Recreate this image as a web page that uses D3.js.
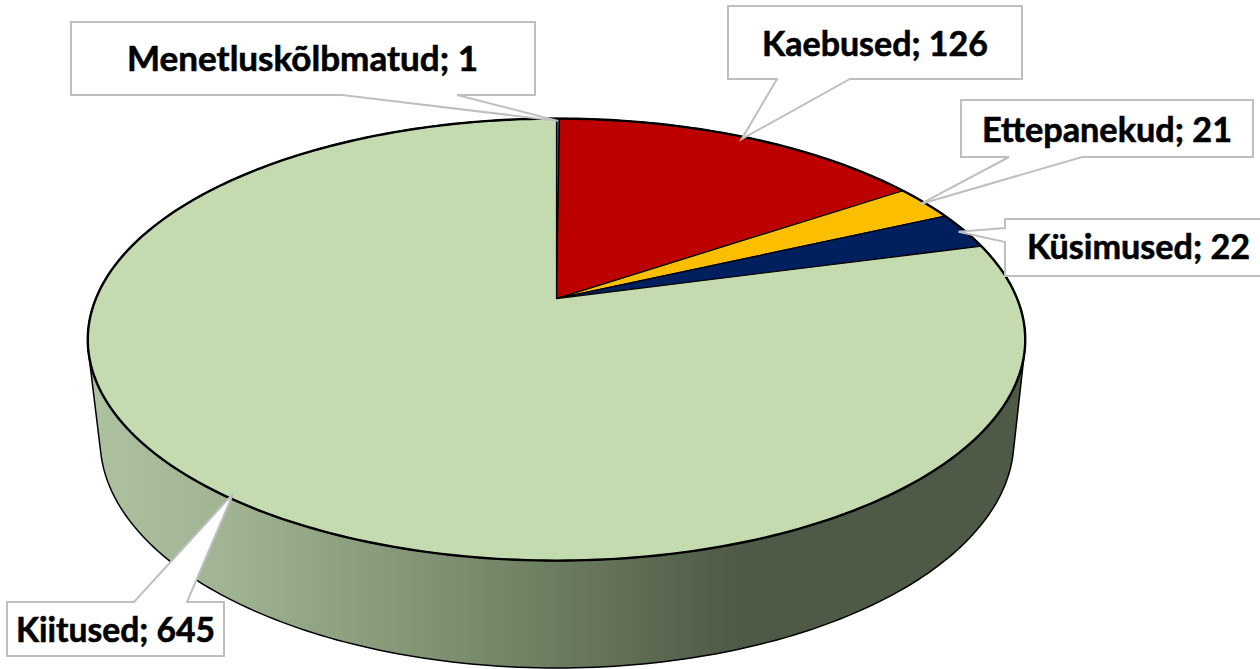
<!DOCTYPE html>
<html>
<head>
<meta charset="utf-8">
<script src="https://cdn.jsdelivr.net/npm/d3@7"></script>
<style>
  html, body { margin: 0; padding: 0; background: #fff; overflow: hidden; }
  text { font-family: Lato, "Open Sans", sans-serif; font-weight: 700; fill: #000; stroke: #000; stroke-width: 0.6px; }
</style>
</head>
<body>
<svg id="chart" width="1260" height="669"></svg>
<script>
const categories = ['Menetluskõlbmatud', 'Kaebused', 'Ettepanekud', 'Küsimused', 'Kiitused']
const values = [1, 126, 21, 22, 645]
const colors = ['#2F5D8C', '#BC0000', '#FBBF00', '#001F5F', '#C4DBAF']

// label boxes, same order as categories
const boxes = [
  { x0: 71, y0: 22, x1: 535, y1: 95, side: 'bottom', a: 342, b: 457, textX: 127, textY: 71, textW: 351 },
  { x0: 728, y0: 6, x1: 1022, y1: 79, side: 'bottom', a: 777, b: 850, textX: 762, textY: 56, textW: 226 },
  { x0: 961, y0: 100, x1: 1253, y1: 157, side: 'bottom', a: 1009, b: 1082, textX: 982, textY: 142, textW: 250 },
  { x0: 1005, y0: 219, x1: 1266, y1: 276, side: 'left', a: 228, b: 242, textX: 1027, textY: 259, textW: 223 },
  { x0: 7, y0: 602, x1: 224, y1: 656, side: 'top', a: 134, b: 187, textX: 16, textY: 642, textW: 199 }
]

const svg = d3.select('#chart')

// perspective disc, unit circle to screen
const disc = (cx, cy, a, b, k) => (u, v) => [
  cx + b * u / (1 - k * v),
  cy + a * v / (1 - k * v)
]
const topDisc = disc(556.5, 298.6, 213.4, 460.6, 0.1855)
const bottomDisc = disc(557, 397.7, 220.2, 449, 0.1855)

const onCircle = (project, angle, r = 1) => project(r * Math.sin(angle), -r * Math.cos(angle))
const ring = project => d3.range(0, 361).map(deg => onCircle(project, deg * Math.PI / 180))

const line = d3.line()

// side wall
const grad = svg.append('defs').append('linearGradient')
  .attr('id', 'wall')
  .attr('gradientUnits', 'userSpaceOnUse')
  .attr('x1', 90).attr('x2', 1030).attr('y1', 0).attr('y2', 0)

const wallStops = [[0, '#ADC29F'], [0.154, '#9FB392'], [0.33, '#849878'], [0.5, '#6B7B5F'], [0.69, '#4E5946'], [1, '#4E5946']]
grad.selectAll('stop')
  .data(wallStops)
  .enter()
  .append('stop')
  .attr('offset', d => d[0])
  .attr('stop-color', d => d[1])

const hull = d3.polygonHull([...ring(topDisc), ...ring(bottomDisc)])
svg.append('path')
  .attr('d', line(hull) + 'Z')
  .style('fill', 'url(#wall)')
  .style('stroke', '#000')
  .style('stroke-width', 1.5)

// slices
const pie = d3.pie().sort(null)
const arcs = pie(values)

const slicePoints = d => {
  const n = Math.max(2, Math.ceil((d.endAngle - d.startAngle) * 60))
  const rim = d3.range(n + 1).map(i => onCircle(topDisc, d.startAngle + (d.endAngle - d.startAngle) * i / n))
  return [topDisc(0, 0), ...rim]
}

svg.append('g')
  .selectAll('path')
  .data(arcs)
  .enter()
  .append('path')
  .attr('d', d => line(slicePoints(d)) + 'Z')
  .style('fill', (d, i) => colors[i])
  .style('stroke', '#000')
  .style('stroke-width', 1.2)
  .style('stroke-linejoin', 'round')

svg.append('path')
  .attr('d', line(ring(topDisc)) + 'Z')
  .style('fill', 'none')
  .style('stroke', '#000')
  .style('stroke-width', 2.4)

// callouts
const calloutPath = (box, tip) => {
  const p = d3.path()
  p.moveTo(box.x0, box.y0)
  if (box.side === 'top') {
    p.lineTo(box.a, box.y0)
    p.lineTo(tip[0], tip[1])
    p.lineTo(box.b, box.y0)
  }
  p.lineTo(box.x1, box.y0)
  p.lineTo(box.x1, box.y1)
  if (box.side === 'bottom') {
    p.lineTo(box.b, box.y1)
    p.lineTo(tip[0], tip[1])
    p.lineTo(box.a, box.y1)
  }
  p.lineTo(box.x0, box.y1)
  if (box.side === 'left') {
    p.lineTo(box.x0, box.b)
    p.lineTo(tip[0], tip[1])
    p.lineTo(box.x0, box.a)
  }
  p.closePath()
  return p.toString()
}

const callouts = svg.append('g')
  .selectAll('g')
  .data(arcs)
  .enter()
  .append('g')

callouts.append('path')
  .attr('d', (d, i) => calloutPath(boxes[i], onCircle(topDisc, (d.startAngle + d.endAngle) / 2, 0.985)))
  .style('fill', '#fff')
  .style('stroke', '#BFBFBF')
  .style('stroke-width', 2)

callouts.append('text')
  .attr('x', (d, i) => boxes[i].textX)
  .attr('y', (d, i) => boxes[i].textY)
  .attr('textLength', (d, i) => boxes[i].textW)
  .attr('lengthAdjust', 'spacingAndGlyphs')
  .style('font-size', '35px')
  .text((d, i) => categories[i] + '; ' + values[i])
</script>
</body>
</html>
